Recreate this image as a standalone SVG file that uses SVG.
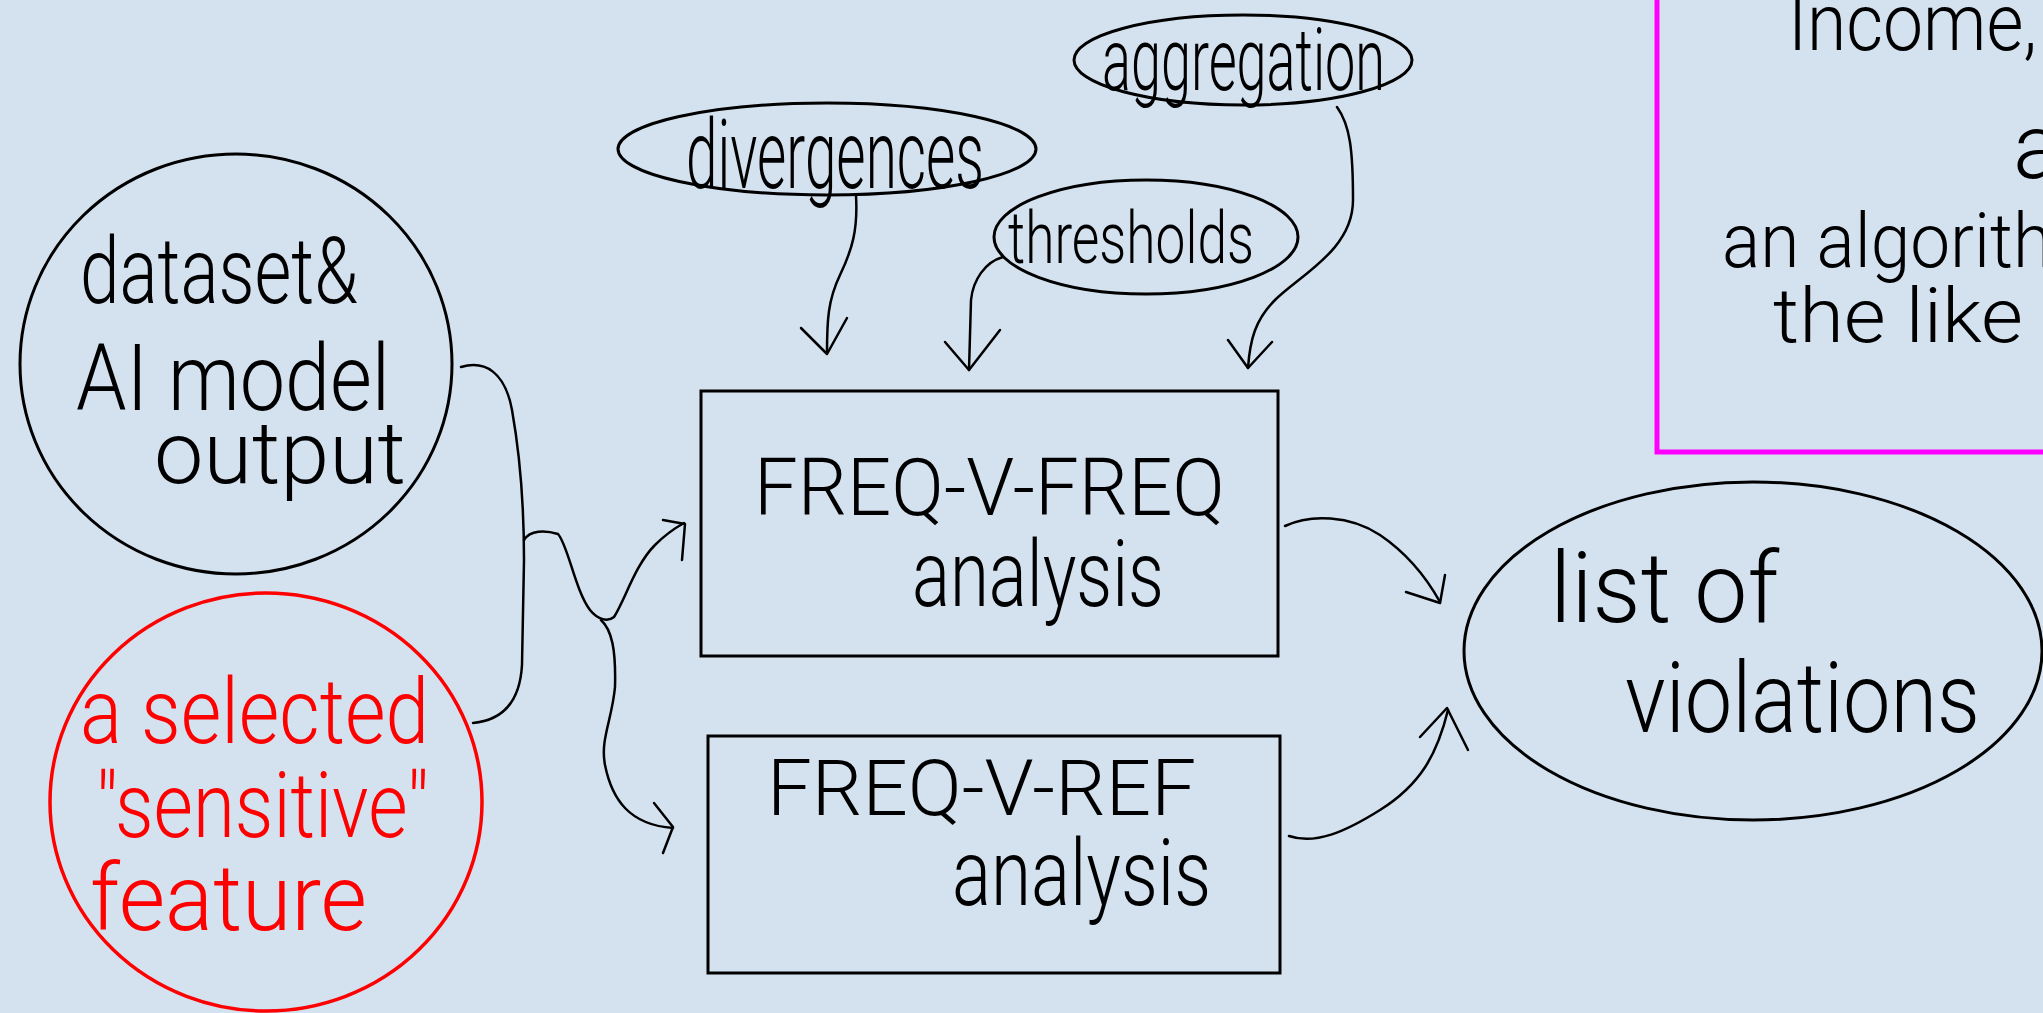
<svg xmlns="http://www.w3.org/2000/svg" width="2043" height="1013" viewBox="0 0 2043 1013">
<style>
.bg{fill:#d4e2f0}
.shape{fill:none;stroke:#000;stroke-width:3}
.red{fill:none;stroke:#ff0000;stroke-width:3.5}
.mag{fill:none;stroke:#ff00ff;stroke-width:5}
.conn{fill:none;stroke:#000;stroke-width:2.5;stroke-linecap:round;stroke-linejoin:round}
.t{font-family:Roboto,"Liberation Sans",sans-serif;font-weight:300;fill:#000}
.tr{font-family:Roboto,"Liberation Sans",sans-serif;font-weight:300;fill:#ff0000}
</style>
<rect class="bg" x="0" y="0" width="2043" height="1013"/>

<g id="note">
<rect class="mag" x="1657" y="-10" width="500" height="462"/>
<text class="t" x="1788" y="50" font-size="80" textLength="249" lengthAdjust="spacingAndGlyphs">Income,</text>
<text class="t" x="2013" y="178" font-size="90">a</text>
<text class="t" x="1722" y="267" font-size="76" textLength="330" lengthAdjust="spacingAndGlyphs">an algorith</text>
<text class="t" x="1773" y="342" font-size="76" textLength="250" lengthAdjust="spacingAndGlyphs">the like</text>
</g>

<g id="dataset">
<ellipse class="shape" cx="236" cy="364" rx="216" ry="210"/>
<text class="t" x="80" y="303" font-size="92" textLength="278" lengthAdjust="spacingAndGlyphs">dataset&amp;</text>
<text class="t" x="76" y="410" font-size="92" textLength="314" lengthAdjust="spacingAndGlyphs">AI model</text>
<text class="t" x="154" y="483" font-size="88" textLength="252" lengthAdjust="spacingAndGlyphs">output</text>
</g>

<g id="feature">
<ellipse class="red" cx="266" cy="802" rx="216" ry="209"/>
<text class="tr" x="80" y="743" font-size="90" textLength="349" lengthAdjust="spacingAndGlyphs">a selected</text>
<text class="tr" x="96" y="837" font-size="90" textLength="333" lengthAdjust="spacingAndGlyphs">"sensitive"</text>
<text class="tr" x="90" y="930" font-size="92" textLength="277" lengthAdjust="spacingAndGlyphs">feature</text>
</g>

<g id="divergences">
<ellipse class="shape" cx="827" cy="149" rx="209" ry="46"/>
<text class="t" x="686" y="188" font-size="96" textLength="298" lengthAdjust="spacingAndGlyphs">divergences</text>
</g>

<g id="aggregation">
<ellipse class="shape" cx="1243" cy="60" rx="169" ry="45"/>
<text class="t" x="1102" y="90" font-size="88" textLength="283" lengthAdjust="spacingAndGlyphs">aggregation</text>
</g>

<g id="thresholds">
<ellipse class="shape" cx="1146" cy="237" rx="152" ry="57"/>
<text class="t" x="1008" y="263" font-size="72" textLength="246" lengthAdjust="spacingAndGlyphs">thresholds</text>
</g>

<g id="freq-v-freq">
<rect class="shape" x="701" y="391" width="577" height="265"/>
<text class="t" x="754" y="515" font-size="80" textLength="471" lengthAdjust="spacingAndGlyphs">FREQ-V-FREQ</text>
<text class="t" x="912" y="606" font-size="92" textLength="252" lengthAdjust="spacingAndGlyphs">analysis</text>
</g>

<g id="freq-v-ref">
<rect class="shape" x="708" y="736" width="572" height="237"/>
<text class="t" x="767" y="815" font-size="78" textLength="429" lengthAdjust="spacingAndGlyphs">FREQ-V-REF</text>
<text class="t" x="952" y="905" font-size="92" textLength="259" lengthAdjust="spacingAndGlyphs">analysis</text>
</g>

<g id="violations">
<ellipse class="shape" cx="1753" cy="651" rx="289" ry="169"/>
<text class="t" x="1550" y="622" font-size="98" textLength="229" lengthAdjust="spacingAndGlyphs">list of</text>
<text class="t" x="1625" y="732" font-size="98" textLength="355" lengthAdjust="spacingAndGlyphs">violations</text>
</g>

<g id="connectors">
<path class="conn" d="M856,196 C858,230 852,250 840,275 C828,300 827,320 827,353"/>
<path class="conn" d="M801,328 L827,354 L847,318"/>
<path class="conn" d="M1003,257 C985,262 973,280 971,300 L969,370"/>
<path class="conn" d="M945,342 L969,370 L1000,330"/>
<path class="conn" d="M1337,107 C1350,125 1353,150 1353,200 C1353,250 1300,275 1275,300 C1255,320 1250,340 1248,368"/>
<path class="conn" d="M1228,340 L1248,368 L1272,342"/>
<path class="conn" d="M461,367 C485,360 505,372 512,410 C520,455 524,500 524,560 L522,665 C520,700 505,720 473,723"/>
<path class="conn" d="M524,540 C530,530 545,530 558,534 C568,545 575,590 590,610 C598,620 608,622 614,617 C625,600 635,565 655,545 C665,535 675,528 684,523"/>
<path class="conn" d="M663,520 L685,524 L682,560"/>
<path class="conn" d="M601,620 C612,630 616,650 615,687 C612,720 600,740 605,765 C612,800 630,825 673,828"/>
<path class="conn" d="M654,803 L673,827 L663,853"/>
<path class="conn" d="M1285,526 C1310,514 1350,515 1380,535 C1405,552 1425,575 1440,602"/>
<path class="conn" d="M1406,592 L1440,603 L1445,575"/>
<path class="conn" d="M1289,836 C1315,845 1345,832 1380,810 C1420,785 1437,755 1448,710"/>
<path class="conn" d="M1420,737 L1447,708 L1468,750"/>
</g>
</svg>
